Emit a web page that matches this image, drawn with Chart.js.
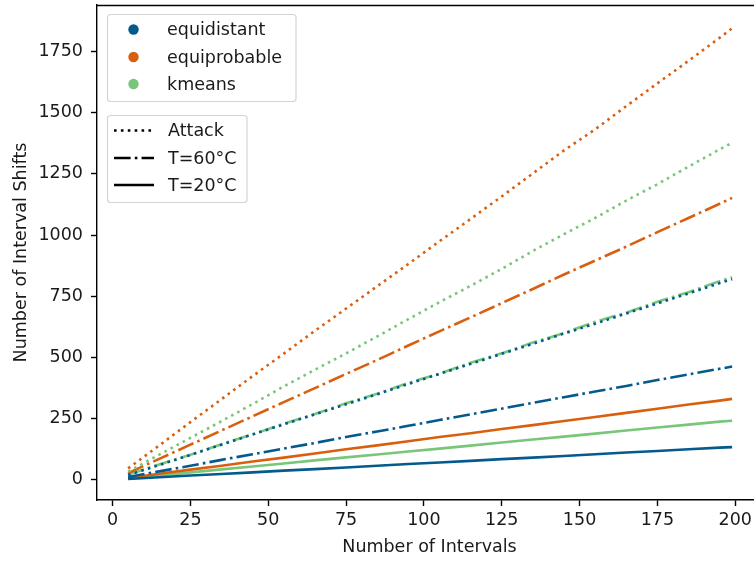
<!DOCTYPE html>
<html>
<head>
<meta charset="utf-8">
<script src="https://cdn.jsdelivr.net/npm/chart.js@4/dist/chart.umd.min.js"></script>
<style>
  html, body { margin: 0; padding: 0; overflow: hidden; background: #fff; }
  canvas { display: block; }
</style>
</head>
<body>
<canvas id="c" width="770" height="561"></canvas>
<script>
// Number of intervals at which each run was evaluated
const intervals = [5, 15, 25, 35, 45, 55, 65, 75, 85, 95, 105, 115, 125, 135, 145, 155, 165, 175, 185, 195, 199];

// Interval shifts under attack
const equidistantAttack  = [20, 61, 102, 144, 186, 227, 268, 309, 350, 392, 433, 474, 515, 556, 598, 638, 680, 721, 762, 804, 820];
const equiprobableAttack = [47, 141, 236, 330, 424, 516, 609, 700, 791, 882, 975, 1066, 1158, 1252, 1346, 1432, 1527, 1620, 1712, 1806, 1845];
const kmeansAttack       = [34, 103, 172, 240, 310, 382, 450, 517, 586, 657, 726, 793, 862, 935, 1004, 1070, 1141, 1208, 1280, 1350, 1377];

// Interval shifts at 60 °C
const equidistantT60  = [12, 35, 58, 82, 105, 128, 151, 175, 198, 221, 245, 268, 291, 315, 338, 361, 384, 408, 431, 454, 463];
const equiprobableT60 = [28, 86, 144, 202, 260, 318, 375, 433, 490, 549, 607, 664, 722, 780, 839, 896, 953, 1012, 1070, 1128, 1152];
const kmeansT60       = [22, 63, 103, 146, 186, 230, 269, 313, 352, 396, 434, 479, 517, 561, 600, 646, 683, 728, 767, 812, 828];

// Interval shifts at 20 °C
const equidistantT20  = [4, 11, 18, 24, 31, 38, 44, 51, 58, 65, 71, 78, 85, 91, 98, 105, 112, 118, 125, 132, 134];
const equiprobableT20 = [8, 25, 42, 58, 75, 91, 108, 125, 141, 158, 175, 191, 208, 224, 241, 257, 274, 291, 308, 324, 331];
const kmeansT20       = [6, 18, 31, 43, 55, 67, 80, 92, 104, 116, 128, 140, 153, 165, 177, 189, 202, 214, 226, 238, 242];

const methods = ['equidistant', 'equiprobable', 'kmeans'];
const conditions = ['Attack', 'T=60°C', 'T=20°C'];

const xTicks = [0, 25, 50, 75, 100, 125, 150, 175, 200];
const yTicks = [0, 250, 500, 750, 1000, 1250, 1500, 1750];

const colors = { equidistant: '#045a8d', equiprobable: '#d95f0e', kmeans: '#78c679' };
const LW = 2.6;
const dashes = {
  'Attack': [1 * LW, 1.65 * LW],
  'T=60°C': [6.4 * LW, 1.6 * LW, 1 * LW, 1.6 * LW],
  'T=20°C': []
};

const seriesTable = {
  'Attack': [equidistantAttack, equiprobableAttack, kmeansAttack],
  'T=60°C': [equidistantT60, equiprobableT60, kmeansT60],
  'T=20°C': [equidistantT20, equiprobableT20, kmeansT20]
};

const FONT = "'DejaVu Sans', 'Liberation Sans', sans-serif";
const FS = 17.5;
const TEXT = '#1a1a1a';

const datasets = [];
conditions.forEach(cond => {
  methods.forEach((m, mi) => {
    datasets.push({
      label: m + ' ' + cond,
      data: intervals.map((x, i) => ({ x: x, y: seriesTable[cond][mi][i] })),
      borderColor: colors[m],
      backgroundColor: colors[m],
      borderWidth: LW,
      borderDash: dashes[cond],
      borderCapStyle: 'butt',
      pointRadius: 0,
      tension: 0,
      fill: false
    });
  });
});

// Frame around the plot area plus the two legend boxes
const framePlugin = {
  id: 'frameAndLegends',
  afterDatasetsDraw(chart) {
    const ctx = chart.ctx;
    const a = chart.chartArea;
    ctx.save();
    ctx.strokeStyle = '#000';
    ctx.lineWidth = 1.4;
    ctx.beginPath();
    ctx.moveTo(a.left, a.top + 0.5);
    ctx.lineTo(a.right, a.top + 0.5);
    ctx.lineTo(a.right, a.bottom);
    ctx.stroke();

    function box(x0, y0, x1, y1) {
      const r = 3;
      ctx.beginPath();
      ctx.moveTo(x0 + r, y0);
      ctx.lineTo(x1 - r, y0);
      ctx.quadraticCurveTo(x1, y0, x1, y0 + r);
      ctx.lineTo(x1, y1 - r);
      ctx.quadraticCurveTo(x1, y1, x1 - r, y1);
      ctx.lineTo(x0 + r, y1);
      ctx.quadraticCurveTo(x0, y1, x0, y1 - r);
      ctx.lineTo(x0, y0 + r);
      ctx.quadraticCurveTo(x0, y0, x0 + r, y0);
      ctx.closePath();
      ctx.fillStyle = 'rgba(255,255,255,0.8)';
      ctx.fill();
      ctx.strokeStyle = '#d4d4d4';
      ctx.lineWidth = 1.2;
      ctx.stroke();
    }

    ctx.font = FS + 'px ' + FONT;
    ctx.textBaseline = 'middle';
    ctx.textAlign = 'left';

    // method legend
    box(107.5, 14.5, 296, 101.5);
    const rows1 = [29.5, 57, 84];
    methods.forEach((m, i) => {
      ctx.fillStyle = colors[m];
      ctx.beginPath();
      ctx.arc(133.5, rows1[i], 5.2, 0, Math.PI * 2);
      ctx.fill();
      ctx.fillStyle = TEXT;
      ctx.fillText(m, 167, rows1[i] + 1);
    });

    // line-style legend
    box(107.5, 115.5, 247, 202.5);
    const rows2 = [130.5, 158, 185];
    conditions.forEach((c, i) => {
      ctx.strokeStyle = '#000';
      ctx.lineWidth = LW;
      ctx.lineCap = 'butt';
      ctx.setLineDash(dashes[c]);
      ctx.beginPath();
      ctx.moveTo(114, rows2[i]);
      ctx.lineTo(154, rows2[i]);
      ctx.stroke();
      ctx.setLineDash([]);
      ctx.fillStyle = TEXT;
      ctx.fillText(c, 168, rows2[i] + 1);
    });
    ctx.restore();
  }
};

// keep the plot area edges fixed regardless of tick-label overhang
function noOverhang(s) {
  s.paddingTop = 0;
  s.paddingBottom = 0;
  s.paddingLeft = 0;
  s.paddingRight = 0;
}

new Chart(document.getElementById('c'), {
  type: 'line',
  data: { datasets: datasets },
  plugins: [framePlugin],
  options: {
    responsive: false,
    animation: false,
    events: [],
    layout: { padding: { top: 5, right: 8, bottom: 0, left: 0 } },
    plugins: { legend: { display: false }, tooltip: { enabled: false } },
    scales: {
      x: {
        type: 'linear',
        min: -5,
        max: 208.6,
        afterBuildTicks: s => { s.ticks = xTicks.map(v => ({ value: v })); },
        afterFit: s => { s.height = 61; noOverhang(s); },
        grid: { display: true, drawOnChartArea: false, drawTicks: true, tickLength: 6, tickWidth: 1.4, tickColor: '#000' },
        border: { display: true, color: '#000', width: 1.4 },
        ticks: { color: TEXT, font: { family: FONT, size: FS }, padding: 4, maxRotation: 0, callback: v => String(v) },
        title: { display: true, text: 'Number of Intervals', color: TEXT, font: { family: FONT, size: FS }, padding: { top: 0, bottom: 3 } }
      },
      y: {
        type: 'linear',
        min: -82,
        max: 1940,
        afterBuildTicks: s => { s.ticks = yTicks.map(v => ({ value: v })); },
        afterFit: s => { s.width = 97; noOverhang(s); },
        grid: { display: true, drawOnChartArea: false, drawTicks: true, tickLength: 6, tickWidth: 1.4, tickColor: '#000' },
        border: { display: true, color: '#000', width: 1.4 },
        ticks: { color: TEXT, font: { family: FONT, size: FS }, padding: 8, callback: v => String(v) },
        title: { display: true, text: 'Number of Interval Shifts', color: TEXT, font: { family: FONT, size: FS }, padding: { top: 11, bottom: 0 } }
      }
    }
  }
});
</script>
</body>
</html>
